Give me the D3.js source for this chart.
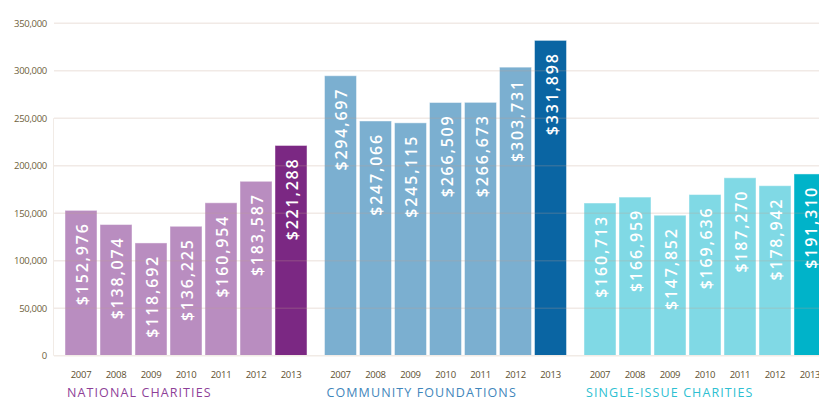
<!DOCTYPE html>
<html>
<head>
<meta charset="utf-8">
<script src="https://cdn.jsdelivr.net/npm/d3@7"></script>
<style>
  body { margin: 0; background: #fff; }
  svg { display: block; }
</style>
</head>
<body>
<script>
// data
var groups = ["NATIONAL CHARITIES", "COMMUNITY FOUNDATIONS", "SINGLE-ISSUE CHARITIES"];
var years = ["2007", "2008", "2009", "2010", "2011", "2012", "2013"];
var nationalValues = [152976, 138074, 118692, 136225, 160954, 183587, 221288];
var communityValues = [294697, 247066, 245115, 266509, 266673, 303731, 331898];
var singleIssueValues = [160713, 166959, 147852, 169636, 187270, 178942, 191310];
var yTicks = [0, 50000, 100000, 150000, 200000, 250000, 300000, 350000];

var seriesValues = [nationalValues, communityValues, singleIssueValues];
var lightColors = ["#b98dc0", "#7bafd0", "#80d9e5"];
var darkColors = ["#7b2883", "#0a65a3", "#00b3c9"];
var titleColors = ["#8e3f98", "#3f86bb", "#2ebfd2"];

var w = 819, h = 400;

var svg = d3.select("body").append("svg")
    .attr("width", w)
    .attr("height", h);

var y = d3.scaleLinear()
    .domain([0, 350000])
    .range([355.7, 23.2]);

var x0 = d3.scaleBand() // one band per group
    .domain(groups)
    .range([65, 826])
    .paddingInner(0.0674);

var x1 = d3.scaleBand() // one band per year inside a group
    .domain(years)
    .range([0, x0.bandwidth()])
    .paddingInner(3 / 35);

// y axis labels
var yAxis = d3.axisLeft(y)
    .tickValues(yTicks)
    .tickFormat(d3.format(","))
    .tickSize(0)
    .tickPadding(0);

var axis = svg.append("g")
    .attr("class", "axis")
    .attr("transform", "translate(47,0)")
    .call(yAxis);
axis.select(".domain").remove();
axis.selectAll("text")
    .style("font-family", "'Open Sans', sans-serif")
    .style("font-size", "9.5px")
    .style("fill", "#6e5f3c")
    .style("letter-spacing", "-0.3px");

// faint panel edge
svg.append("line")
    .attr("x1", 53.5).attr("x2", 53.5)
    .attr("y1", y(250000)).attr("y2", y(0))
    .style("stroke", "#f1ebe6")
    .style("stroke-width", 1);

// bars
var rows = [];
groups.forEach(function(g, gi){
    years.forEach(function(yr, i){
        rows.push({ group: g, gi: gi, year: yr, i: i, value: seriesValues[gi][i] });
    });
});

var bars = svg.selectAll(".bar")
    .data(rows)
    .enter()
    .append("rect")
    .attr("class", "bar")
    .attr("x", function(d){ return x0(d.group) + x1(d.year); })
    .attr("y", function(d){ return y(d.value); })
    .attr("width", x1.bandwidth())
    .attr("height", function(d){ return y(0) - y(d.value); })
    .style("fill", function(d){ return d.i === years.length - 1 ? darkColors[d.gi] : lightColors[d.gi]; })
    .style("stroke", "rgba(255,255,255,0.45)")
    .style("stroke-width", 1);

// gridlines sit over the bars, very faint
svg.selectAll(".grid")
    .data(yTicks)
    .enter()
    .append("line")
    .attr("class", "grid")
    .attr("x1", 54)
    .attr("x2", w)
    .attr("y1", function(d){ return y(d); })
    .attr("y2", function(d){ return y(d); })
    .style("stroke", function(d){ return d === 0 ? "#f1ebe6" : "rgba(190,160,140,0.22)"; })
    .style("stroke-width", 1.5);

// value labels, rotated inside each bar
var fmt = d3.format(",");
svg.selectAll(".valueLabel")
    .data(rows)
    .enter()
    .append("text")
    .attr("class", "valueLabel")
    .attr("transform", function(d){
        var cx = x0(d.group) + x1(d.year) + x1.bandwidth() / 2 + 1;
        return "translate(" + cx + "," + (y(d.value) + 12) + ") rotate(-90)";
    })
    .attr("text-anchor", "end")
    .attr("dominant-baseline", "central")
    .style("font-family", "'Open Sans', sans-serif")
    .style("font-size", "16px")
    .style("font-weight", "600")
    .style("letter-spacing", "1.8px")
    .style("fill", "#fff")
    .text(function(d){ return "$" + fmt(d.value); });

// year labels
svg.selectAll(".yearLabel")
    .data(rows)
    .enter()
    .append("text")
    .attr("class", "yearLabel")
    .attr("x", function(d){ return x0(d.group) + x1(d.year) + x1.bandwidth() / 2; })
    .attr("y", 378)
    .attr("text-anchor", "middle")
    .style("font-family", "'Open Sans', sans-serif")
    .style("font-size", "9.5px")
    .style("letter-spacing", "-0.3px")
    .style("fill", "#5e5030")
    .text(function(d){ return d.year; });

// group titles
svg.selectAll(".groupTitle")
    .data(groups)
    .enter()
    .append("text")
    .attr("class", "groupTitle")
    .attr("x", function(d){ return x0(d) + 2; })
    .attr("y", 397)
    .style("font-family", "'Open Sans', sans-serif")
    .style("font-size", "12.5px")
    .style("letter-spacing", "1.1px")
    .style("fill", function(d, i){ return titleColors[i]; })
    .text(function(d){ return d; });
</script>
</body>
</html>
